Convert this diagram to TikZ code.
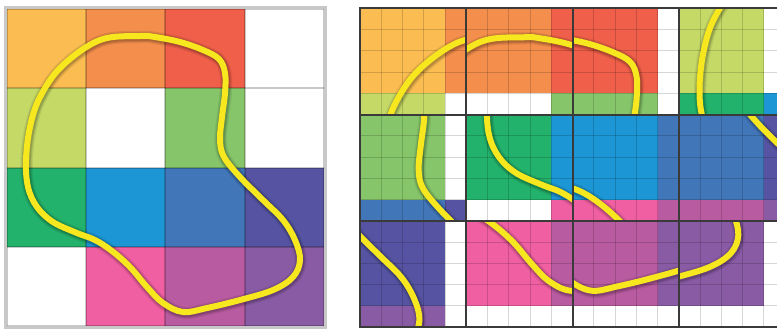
\documentclass[tikz,border=0pt]{standalone}
\definecolor{cYo}{RGB}{251,189,82}
\definecolor{cOr}{RGB}{244,142,76}
\definecolor{cRe}{RGB}{239,95,74}
\definecolor{cLg}{RGB}{197,217,103}
\definecolor{cGr}{RGB}{134,197,106}
\definecolor{cDg}{RGB}{35,178,107}
\definecolor{cBl}{RGB}{28,150,212}
\definecolor{cSb}{RGB}{65,118,184}
\definecolor{cIn}{RGB}{86,84,162}
\definecolor{cPk}{RGB}{239,95,162}
\definecolor{cMg}{RGB}{184,91,160}
\definecolor{cPu}{RGB}{138,91,165}
\definecolor{loopyellow}{RGB}{246,231,31}
\definecolor{edgedark}{RGB}{58,58,58}
\definecolor{framegrey}{RGB}{200,200,200}
\tikzset{
  loopshadowA/.style={draw=black, opacity=0.07, line width=12.5pt, line join=round},
  loopshadowB/.style={draw=black, opacity=0.10, line width=10pt, line join=round},
  loopshadowC/.style={draw=black, opacity=0.12, line width=8pt, line join=round},
  loopline/.style={draw=loopyellow, line width=6pt, line join=round},
  finegrid/.style={draw=black, opacity=0.16, line width=0.9pt},
  coarsegrid/.style={draw=black, opacity=0.21, line width=2.2pt},
  outerframe/.style={draw=framegrey, line width=3pt},
  blockedge/.style={draw=edgedark, line width=2pt},
}
\newcommand\looppath[1]{\path[#1] plot[smooth cycle, tension=0.6] coordinates {
  (140,36) (100,40) (62,66) (40,97) (30,127) (26,160) (28,187) (37,207) (53,222)
  (77,233) (95,240) (112,251) (130,267) (147,287) (163,303) (183,312) (207,308)
  (240,300) (273,290) (293,277) (300,260) (295,240) (283,220) (263,200) (240,177)
  (224,157) (220,140) (222,117) (225,93) (225,73) (219,59) (203,50) (180,42) (155,37)};}
\newcommand\drawloop{%
  \begin{scope}[shift={(0.6,1.0)}]
    \looppath{loopshadowA}\looppath{loopshadowB}\looppath{loopshadowC}
  \end{scope}
  \looppath{loopline}}
% #1 block col, #2 block row, #3 left col, #4 left row, #5 main, #6 right, #7 bottom, #8 corner
\newcommand\block[8]{%
  \pgfmathsetmacro\bx{360+#1*106.3}
  \pgfmathsetmacro\by{8.3+#2*106.3}
  \pgfmathsetmacro\lx{6.7+#3*79.3}
  \pgfmathsetmacro\ly{9+#4*79.3}
  \fill[#5] (\bx,\by) rectangle ++(85.04,85.04);
  \fill[#6] ({\bx+85.04},\by) rectangle ++(21.26,85.04);
  \fill[#7] (\bx,{\by+85.04}) rectangle ++(85.04,21.26);
  \fill[#8] ({\bx+85.04},{\by+85.04}) rectangle ++(21.26,21.26);
  \foreach \k in {1,...,4}{
    \draw[finegrid] ({\bx+\k*21.26},\by) -- ++(0,106.3);
    \draw[finegrid] (\bx,{\by+\k*21.26}) -- ++(106.3,0);
  }
  \begin{scope}
    \clip (\bx,\by) rectangle ++(106.3,106.3);
    \begin{scope}[shift={({\bx-1.0724*\lx},{\by-1.0724*\ly})}, scale=1.0724]
      \drawloop
    \end{scope}
  \end{scope}
  \draw[blockedge] (\bx,\by) rectangle ++(106.3,106.3);
}
\begin{document}
\begin{tikzpicture}[x=1pt,y=-1pt]
\useasboundingbox (0,0) rectangle (777,330);
\clip (0,0) rectangle (777,330);
\fill[white] (0,0) rectangle (777,330);
% ---- left coarse grid ----
\foreach \c [count=\j from 0] in {cYo,cOr,cRe,white}
  \fill[\c] ({6.7+\j*79.3},9) rectangle ++(79.3,79.3);
\foreach \c [count=\j from 0] in {cLg,white,cGr,white}
  \fill[\c] ({6.7+\j*79.3},88.3) rectangle ++(79.3,79.3);
\foreach \c [count=\j from 0] in {cDg,cBl,cSb,cIn}
  \fill[\c] ({6.7+\j*79.3},167.6) rectangle ++(79.3,79.3);
\foreach \c [count=\j from 0] in {white,cPk,cMg,cPu}
  \fill[\c] ({6.7+\j*79.3},246.9) rectangle ++(79.3,79.3);
\foreach \k in {0,...,4}{
  \draw[coarsegrid] ({6.7+\k*79.3},9) -- ++(0,317.2);
  \draw[coarsegrid] (6.7,{9+\k*79.3}) -- ++(317.2,0);
}
\draw[outerframe] (5.5,7.8) rectangle (325.2,327.5);
\drawloop
% ---- right blocks ----
\block{0}{0}{0}{0}{cYo}{cOr}{cLg}{white}
\block{1}{0}{1}{0}{cOr}{cRe}{white}{cGr}
\block{2}{0}{2}{0}{cRe}{white}{cGr}{white}
\block{3}{0}{0}{1}{cLg}{white}{cDg}{cBl}
\block{0}{1}{2}{1}{cGr}{white}{cSb}{cIn}
\block{1}{1}{0}{2}{cDg}{cBl}{white}{cPk}
\block{2}{1}{1}{2}{cBl}{cSb}{cPk}{cMg}
\block{3}{1}{2}{2}{cSb}{cIn}{cMg}{cPu}
\block{0}{2}{3}{2}{cIn}{white}{cPu}{white}
\block{1}{2}{1}{3}{cPk}{cMg}{white}{white}
\block{2}{2}{2}{3}{cMg}{cPu}{white}{white}
\block{3}{2}{3}{3}{cPu}{white}{white}{white}
\end{tikzpicture}
\end{document}
